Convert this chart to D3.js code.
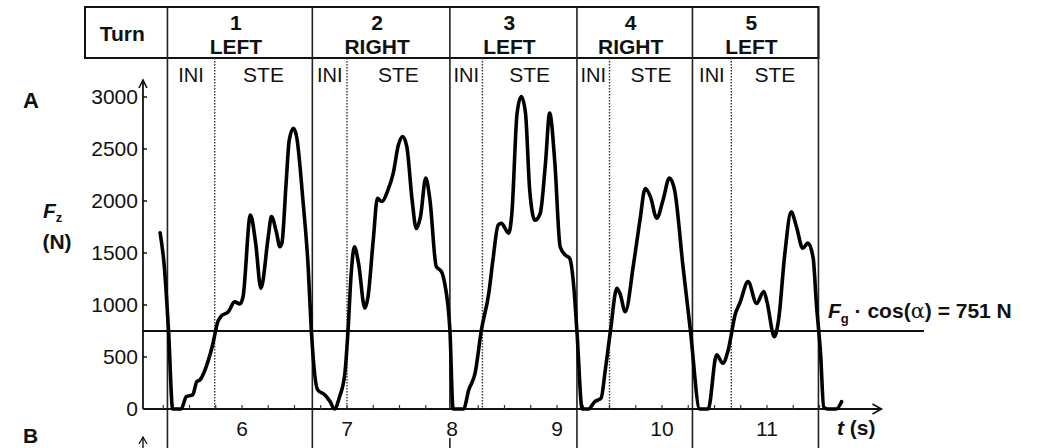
<!DOCTYPE html>
<html>
<head>
<meta charset="utf-8">
<script src="https://cdn.jsdelivr.net/npm/d3@7"></script>
<style>
  body { margin: 0; background: #fff; }
  svg text { font-family: "Liberation Sans", Arial, sans-serif; fill: #111; }
</style>
</head>
<body>
<div id="chart"></div>
<script>

// Time (s) and vertical force Fz (N)
var times = [
  5.22, 5.26, 5.30, 5.34, 5.42, 5.47, 5.53, 5.57, 5.60, 5.68, 5.72, 5.77, 5.80, 5.87, 5.93, 5.98, 6.01, 6.08,
  6.13, 6.18, 6.25, 6.28, 6.33, 6.36, 6.38, 6.42, 6.45, 6.49, 6.52, 6.58, 6.63, 6.66, 6.72, 6.79, 6.84, 6.88,
  6.93, 6.98, 7.01, 7.04, 7.07, 7.11, 7.17, 7.20, 7.25, 7.29, 7.33, 7.39, 7.44, 7.49, 7.53, 7.57, 7.62, 7.66,
  7.70, 7.75, 7.79, 7.85, 7.90, 7.93, 7.98, 8.01, 8.11, 8.16, 8.22, 8.28, 8.35, 8.39, 8.44, 8.47, 8.54, 8.57, 8.62,
  8.66, 8.70, 8.74, 8.79, 8.84, 8.89, 8.93, 8.98, 9.03, 9.08, 9.12, 9.16, 9.19, 9.24, 9.30, 9.36, 9.42, 9.46,
  9.51, 9.57, 9.60, 9.65, 9.73, 9.79, 9.84, 9.89, 9.95, 10.01, 10.07, 10.12, 10.20, 10.27,
  10.36, 10.44, 10.52, 10.58, 10.63, 10.70, 10.74, 10.82, 10.90, 10.97, 11.00, 11.07, 11.11, 11.17, 11.23,
  11.28, 11.34, 11.39, 11.44, 11.47, 11.51, 11.54, 11.58, 11.66, 11.71
];
var forces = [
  1695, 1370, 760, 0, 0, 120, 135, 265, 280, 470, 615, 840, 890, 935, 1030, 1010, 1080, 1865,
  1595, 1160, 1655, 1850, 1690, 1560, 1595, 2170, 2585, 2700, 2620, 2010, 1370, 760, 185, 135, 70, 0,
  120, 345, 760, 1305, 1560, 1400, 970, 1080, 1625, 2025, 1995, 2105, 2265, 2540, 2620, 2520, 2010, 1735,
  1850, 2220, 2010, 1370, 1320, 1210, 760, 0, 0, 185, 345, 760, 1110, 1435, 1770, 1785, 1690, 1880, 2845,
  3005, 2845, 2105, 1815, 1880, 2360, 2845, 2360, 1560, 1480, 1450, 1175, 745, 0, 0, 70, 105, 375,
  760, 1160, 1110, 935, 1400, 1815, 2120, 2040, 1835, 2010, 2220, 2105, 1370, 760,
  0, 0, 520, 440, 565, 920, 1015, 1225, 1015, 1130, 1030, 695, 855, 1495, 1895,
  1755, 1545, 1595, 1450, 1015, 535, 20, 0, 0, 70
];

// Turns: boundaries (s), end of the INI phase (s), labels
var turnEdges = [5.29, 6.67, 7.98, 9.19, 10.29, 11.49];
var iniEnds = [5.74, 7.0, 8.29, 9.5, 10.66];
var turnNumbers = ["1", "2", "3", "4", "5"];
var turnSides = ["LEFT", "RIGHT", "LEFT", "RIGHT", "LEFT"];

var yTicks = [0, 500, 1000, 1500, 2000, 2500, 3000];
var xTickLabels = [6, 7, 8, 9, 10, 11];
var threshold = 751;

var width = 1048, height = 448;

var x = d3.scaleLinear().domain([6, 11]).range([242, 767]);
var y = d3.scaleLinear().domain([0, 3000]).range([409, 97]);

var xStart = 5.057, xEnd = 12.09;
var tableTop = 7, headRow = 58, tableLeft = 85;

var svg = d3.select("#chart").append("svg")
    .attr("width", width)
    .attr("height", height);

// header table
var head = svg.append("g");
head.append("rect")
    .attr("x", tableLeft).attr("y", tableTop)
    .attr("width", x(turnEdges[turnEdges.length - 1]) - tableLeft)
    .attr("height", headRow - tableTop)
    .attr("fill", "none").attr("stroke", "#111").attr("stroke-width", 2);

head.append("text")
    .attr("x", (tableLeft + x(turnEdges[0])) / 2 - 4).attr("y", 41)
    .attr("text-anchor", "middle")
    .style("font-size", "21px").style("font-weight", "bold")
    .text("Turn");

var turns = turnNumbers.map(function(n, i) {
  return {num: n, side: turnSides[i], t0: turnEdges[i], t1: turnEdges[i + 1], ini: iniEnds[i]};
});

var turnG = head.selectAll(".turn").data(turns).enter().append("g");
turnG.append("text")
    .attr("x", function(d) { return (x(d.t0) + x(d.t1)) / 2 - 4; })
    .attr("y", 30)
    .attr("text-anchor", "middle")
    .style("font-size", "21px").style("font-weight", "bold")
    .text(function(d) { return d.num; });
turnG.append("text")
    .attr("x", function(d) { return (x(d.t0) + x(d.t1)) / 2 - 4; })
    .attr("y", 54)
    .attr("text-anchor", "middle")
    .style("font-size", "21px").style("font-weight", "bold")
    .text(function(d) { return d.side; });
turnG.append("text")
    .attr("x", function(d) { return (x(d.t0) + x(d.ini)) / 2; })
    .attr("y", 82)
    .attr("text-anchor", "middle")
    .style("font-size", "20px")
    .text("INI");
turnG.append("text")
    .attr("x", function(d) { return (x(d.ini) + x(d.t1)) / 2; })
    .attr("y", 82)
    .attr("text-anchor", "middle")
    .style("font-size", "21px")
    .text("STE");

// turn boundaries (the one at 8 s stops at the axis, label sits under it)
svg.selectAll(".edge").data(turnEdges).enter().append("line")
    .attr("x1", function(d) { return x(d); })
    .attr("x2", function(d) { return x(d); })
    .attr("y1", tableTop)
    .attr("y2", function(d, i) { return i == 2 ? y(0) : height; })
    .attr("stroke", "#222").attr("stroke-width", 1.6);
svg.append("line")
    .attr("x1", x(turnEdges[2])).attr("x2", x(turnEdges[2]))
    .attr("y1", 438).attr("y2", height)
    .attr("stroke", "#222").attr("stroke-width", 1.6);

svg.selectAll(".ini").data(iniEnds).enter().append("line")
    .attr("x1", function(d) { return x(d); })
    .attr("x2", function(d) { return x(d); })
    .attr("y1", headRow)
    .attr("y2", y(0))
    .attr("stroke", "#333").attr("stroke-width", 1.4)
    .attr("stroke-dasharray", "1.5,1.5");

// y axis with arrow
var yAxis = svg.append("g");
yAxis.append("line")
    .attr("x1", x(xStart)).attr("x2", x(xStart))
    .attr("y1", y(0)).attr("y2", 80)
    .attr("stroke", "#111").attr("stroke-width", 1.8);
yAxis.append("path")
    .attr("d", "M" + (x(xStart) - 4) + ",88L" + x(xStart) + ",80L" + (x(xStart) + 4) + ",88")
    .attr("fill", "none").attr("stroke", "#111").attr("stroke-width", 1.6);
yAxis.selectAll(".yt").data(yTicks).enter().append("line")
    .attr("x1", x(xStart)).attr("x2", x(xStart) + 4)
    .attr("y1", function(d) { return y(d); })
    .attr("y2", function(d) { return y(d); })
    .attr("stroke", "#111").attr("stroke-width", 1.5);
yAxis.selectAll(".yl").data(yTicks).enter().append("text")
    .attr("x", x(xStart) - 5)
    .attr("y", function(d) { return y(d) + 7; })
    .attr("text-anchor", "end")
    .style("font-size", "21px")
    .text(function(d) { return d; });

// x axis with arrow
var xAxis = svg.append("g");
xAxis.append("line")
    .attr("x1", x(xStart)).attr("x2", x(xEnd))
    .attr("y1", y(0)).attr("y2", y(0))
    .attr("stroke", "#111").attr("stroke-width", 1.8);
xAxis.append("path")
    .attr("d", "M" + (x(xEnd) - 9) + "," + (y(0) - 5) + "L" + x(xEnd) + "," + y(0) + "L" + (x(xEnd) - 9) + "," + (y(0) + 5))
    .attr("fill", "none").attr("stroke", "#111").attr("stroke-width", 1.6);
xAxis.selectAll(".xt").data(d3.range(5.25, 11.51, 0.25)).enter().append("line")
    .attr("x1", function(d) { return x(d); })
    .attr("x2", function(d) { return x(d); })
    .attr("y1", y(0)).attr("y2", y(0) - 4)
    .attr("stroke", "#333").attr("stroke-width", 1.2);
xAxis.selectAll(".xl").data(xTickLabels).enter().append("text")
    .attr("x", function(d) { return x(d); })
    .attr("y", 436)
    .attr("text-anchor", "middle")
    .style("font-size", "21px")
    .text(function(d) { return d; });

var tLabel = xAxis.append("text")
    .attr("x", 837).attr("y", 435)
    .style("font-size", "21px").style("font-weight", "bold");
tLabel.append("tspan").style("font-style", "italic").text("t");
tLabel.append("tspan").text(" (s)");

// threshold line
svg.append("line")
    .attr("x1", x(xStart)).attr("x2", 924)
    .attr("y1", y(threshold)).attr("y2", y(threshold))
    .attr("stroke", "#111").attr("stroke-width", 2);

var thr = svg.append("text")
    .attr("x", 828).attr("y", 318)
    .style("font-size", "21px").style("font-weight", "bold");
thr.append("tspan").style("font-style", "italic").text("F");
thr.append("tspan").attr("dy", 5).style("font-size", "13px").text("g");
thr.append("tspan").attr("dy", -5).text(" \u00b7 cos(");
thr.append("tspan").style("font-family", "DejaVu Serif").style("font-weight", "normal").text("\u03b1");
thr.append("tspan").text(") = " + threshold + " N");

// force curve
var pts = times.map(function(t, i) { return [t, forces[i]]; });
var line = d3.line()
    .x(function(d) { return x(d[0]); })
    .y(function(d) { return y(d[1]); })
    .curve(d3.curveMonotoneX);

svg.append("path")
    .datum(pts)
    .attr("d", line)
    .attr("fill", "none")
    .attr("stroke", "#000")
    .attr("stroke-width", 3.6)
    .attr("stroke-linejoin", "round")
    .attr("stroke-linecap", "round");

// axis title and panel letters
var fz = svg.append("text")
    .attr("x", 43).attr("y", 218)
    .style("font-size", "21px").style("font-weight", "bold");
fz.append("tspan").style("font-style", "italic").text("F");
fz.append("tspan").attr("dy", 4).style("font-size", "13px").text("z");
svg.append("text")
    .attr("x", 57).attr("y", 249)
    .attr("text-anchor", "middle")
    .style("font-size", "21px").style("font-weight", "bold")
    .text("(N)");

svg.append("text").attr("x", 23).attr("y", 108)
    .style("font-size", "22px").style("font-weight", "bold").text("A");
svg.append("text").attr("x", 23).attr("y", 443)
    .style("font-size", "21px").style("font-weight", "bold").text("B");

// top of panel B axis
svg.append("line")
    .attr("x1", x(xStart)).attr("x2", x(xStart))
    .attr("y1", 437).attr("y2", height)
    .attr("stroke", "#111").attr("stroke-width", 1.4);
svg.append("path")
    .attr("d", "M" + (x(xStart) - 4) + ",444L" + x(xStart) + ",437L" + (x(xStart) + 4) + ",444")
    .attr("fill", "none").attr("stroke", "#111").attr("stroke-width", 1.3);

</script>
</body>
</html>
